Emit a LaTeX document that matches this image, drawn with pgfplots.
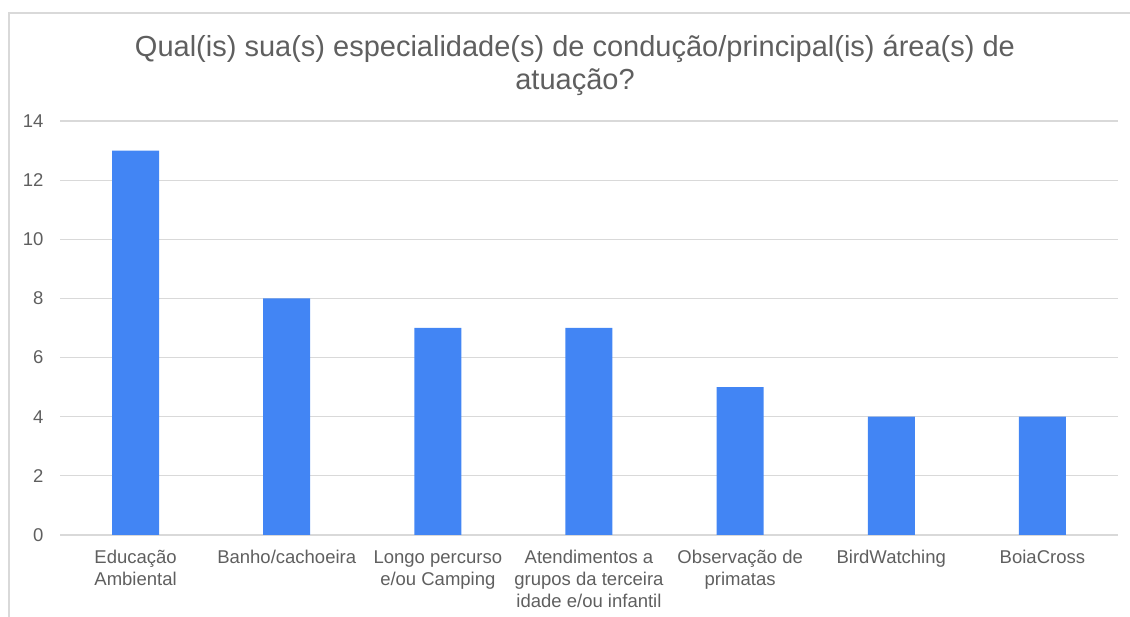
\documentclass[border=0pt]{standalone}
\usepackage{fontspec}
\setmainfont{Liberation Sans}
\usepackage{pgfplots}
\pgfplotsset{compat=1.18}
\definecolor{barblue}{HTML}{4285F4}
\definecolor{txtgray}{HTML}{5F5F5F}
\definecolor{gridgray}{HTML}{D9D9D9}
\begin{document}
\begin{tikzpicture}[x=1pt,y=1pt]
\useasboundingbox (0,0) rectangle (1130,617);
\draw[gridgray, line width=1.5pt] (9,0) -- (9,604) -- (1130,604);
\node[align=center, text=txtgray, font=\fontsize{29}{33}\selectfont, anchor=base] at (575,527) {Qual(is) sua(s) especialidade(s) de condução/principal(is) área(s) de\\atuação?};
\begin{axis}[
  at={(60pt,82pt)}, anchor=south west,
  scale only axis, width=1058pt, height=414pt,
  xmin=-0.5, xmax=6.5, ymin=0, ymax=14,
  ytick={0,2,...,14},
  xtick={0,1,2,3,4,5,6},
  xticklabels={{Educação\\Ambiental},{Banho/cachoeira},{Longo percurso\\e/ou Camping},{Atendimentos a\\grupos da terceira\\idade e/ou infantil},{Observação de\\primatas},{BirdWatching},{BoiaCross}},
  ymajorgrids, grid style={gridgray, line width=1.2pt},
  axis line style={draw=none},
  major tick length=0pt,
  tick label style={text=txtgray, font=\fontsize{18.5}{22}\selectfont},
  xticklabel style={align=center, anchor=north, yshift=-12pt},
  yticklabel style={anchor=east, xshift=-13pt},
  /pgf/number format/assume math mode=true,
  ybar, bar width=47pt,
]
\addplot[fill=barblue, draw=none] coordinates {(0,13) (1,8) (2,7) (3,7) (4,5) (5,4) (6,4)};
\end{axis}
\end{tikzpicture}
\end{document}
